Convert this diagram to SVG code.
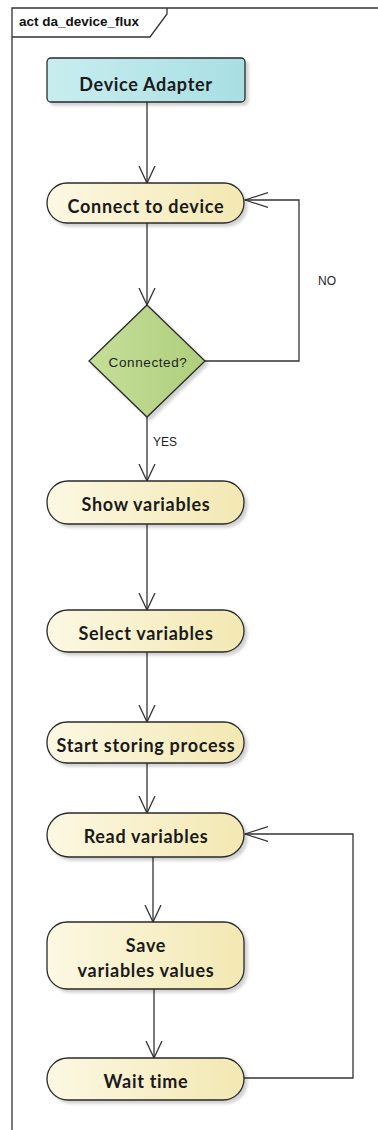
<svg xmlns="http://www.w3.org/2000/svg" width="378" height="1130" viewBox="0 0 378 1130">
  <style>
    .frame { fill: none; stroke: #333; stroke-width: 1.3; }
    .title { font-family: "Liberation Sans", Arial, sans-serif; font-size: 13.5px; font-weight: bold; fill: #111; }
    .node { stroke: #2a2a2a; stroke-width: 1.3; filter: url(#shadow); }
    .action { fill: url(#actionFill); }
    .label { font-family: "Lato", "Liberation Sans", sans-serif; font-size: 18px; font-weight: bold; letter-spacing: 0.7px; fill: #1a1a1a; text-anchor: middle; }
    .guard { font-family: "Liberation Sans", Arial, sans-serif; font-size: 12px; fill: #222; }
    .decision-text { font-family: "Liberation Sans", Arial, sans-serif; font-size: 13.5px; letter-spacing: 0.6px; fill: #222; text-anchor: middle; }
    .edge { fill: none; stroke: #333; stroke-width: 1.3; }
  </style>
  <defs>
    <linearGradient id="actionFill" x1="0" y1="0" x2="1" y2="0">
      <stop offset="0" stop-color="#fcf8e3"/>
      <stop offset="1" stop-color="#f3e8b2"/>
    </linearGradient>
    <linearGradient id="startFill" x1="0" y1="0" x2="1" y2="0">
      <stop offset="0" stop-color="#c9edef"/>
      <stop offset="1" stop-color="#a8dfe3"/>
    </linearGradient>
    <linearGradient id="decisionFill" x1="0" y1="0" x2="1" y2="0">
      <stop offset="0" stop-color="#c6de9a"/>
      <stop offset="1" stop-color="#aecf7c"/>
    </linearGradient>
    <filter id="shadow" x="-10%" y="-10%" width="130%" height="140%">
      <feDropShadow dx="3" dy="3" stdDeviation="1.5" flood-color="#000" flood-opacity="0.18"/>
    </filter>
    <marker id="vArrow" markerUnits="userSpaceOnUse" viewBox="0 0 18 18" markerWidth="18" markerHeight="18" refX="17" refY="9" orient="auto">
      <path d="M0,1 L17,9 L0,17" fill="none" stroke="#333" stroke-width="1.3"/>
    </marker>
    <marker id="hArrow" markerUnits="userSpaceOnUse" viewBox="0 0 24 18" markerWidth="24" markerHeight="18" refX="23" refY="9" orient="auto">
      <path d="M0,1.5 L23,9 L0,16.5" fill="none" stroke="#333" stroke-width="1.3"/>
    </marker>
  </defs>

  <!-- activity frame -->
  <g id="frame">
    <path class="frame" d="M12,1135 V8 H380"/>
    <path class="frame" d="M12,37 H150 L167,14 V8"/>
    <text class="title" x="19" y="26">act da_device_flux</text>
  </g>

  <!-- connectors -->
  <g id="connectors">
    <path class="edge" d="M147,102 V183" marker-end="url(#vArrow)"/>
    <path class="edge" d="M147,223 V305" marker-end="url(#vArrow)"/>
    <path class="edge" d="M205,361 H299 V200 H245" marker-end="url(#hArrow)"/>
    <text class="guard" x="318" y="285">NO</text>
    <path class="edge" d="M147,417 V481" marker-end="url(#vArrow)"/>
    <text class="guard" x="153" y="446">YES</text>
    <path class="edge" d="M147,524 V610" marker-end="url(#vArrow)"/>
    <path class="edge" d="M147,652 V722" marker-end="url(#vArrow)"/>
    <path class="edge" d="M147,763 V813" marker-end="url(#vArrow)"/>
    <path class="edge" d="M153,857 V922" marker-end="url(#vArrow)"/>
    <path class="edge" d="M154,989 V1058" marker-end="url(#vArrow)"/>
    <path class="edge" d="M244,1078 H353 V834 H245" marker-end="url(#hArrow)"/>
  </g>

  <!-- nodes -->
  <g id="device-adapter">
    <rect class="node" x="47" y="58" width="198" height="44" rx="4" fill="url(#startFill)"/>
    <text class="label" x="146" y="91">Device Adapter</text>
  </g>
  <g id="connect-to-device">
    <rect class="node action" x="47" y="183" width="197" height="40" rx="20"/>
    <text class="label" x="146" y="213">Connect to device</text>
  </g>
  <g id="connected-decision">
    <path class="node" d="M147,305 L205,361 L147,417 L89,361 Z" fill="url(#decisionFill)"/>
    <text class="decision-text" x="148" y="367">Connected?</text>
  </g>
  <g id="show-variables">
    <rect class="node action" x="47" y="481" width="197" height="43" rx="21"/>
    <text class="label" x="146" y="511">Show variables</text>
  </g>
  <g id="select-variables">
    <rect class="node action" x="47" y="610" width="197" height="42" rx="21"/>
    <text class="label" x="146" y="640">Select variables</text>
  </g>
  <g id="start-storing-process">
    <rect class="node action" x="47" y="722" width="197" height="41" rx="20"/>
    <text class="label" x="146" y="752">Start storing process</text>
  </g>
  <g id="read-variables">
    <rect class="node action" x="47" y="813" width="197" height="44" rx="22"/>
    <text class="label" x="146" y="843">Read variables</text>
  </g>
  <g id="save-variables-values">
    <rect class="node action" x="47" y="922" width="197" height="67" rx="20"/>
    <text class="label" x="146" y="952">Save</text>
    <text class="label" x="146" y="977">variables values</text>
  </g>
  <g id="wait-time">
    <rect class="node action" x="47" y="1058" width="197" height="42" rx="21"/>
    <text class="label" x="146" y="1088">Wait time</text>
  </g>
</svg>
